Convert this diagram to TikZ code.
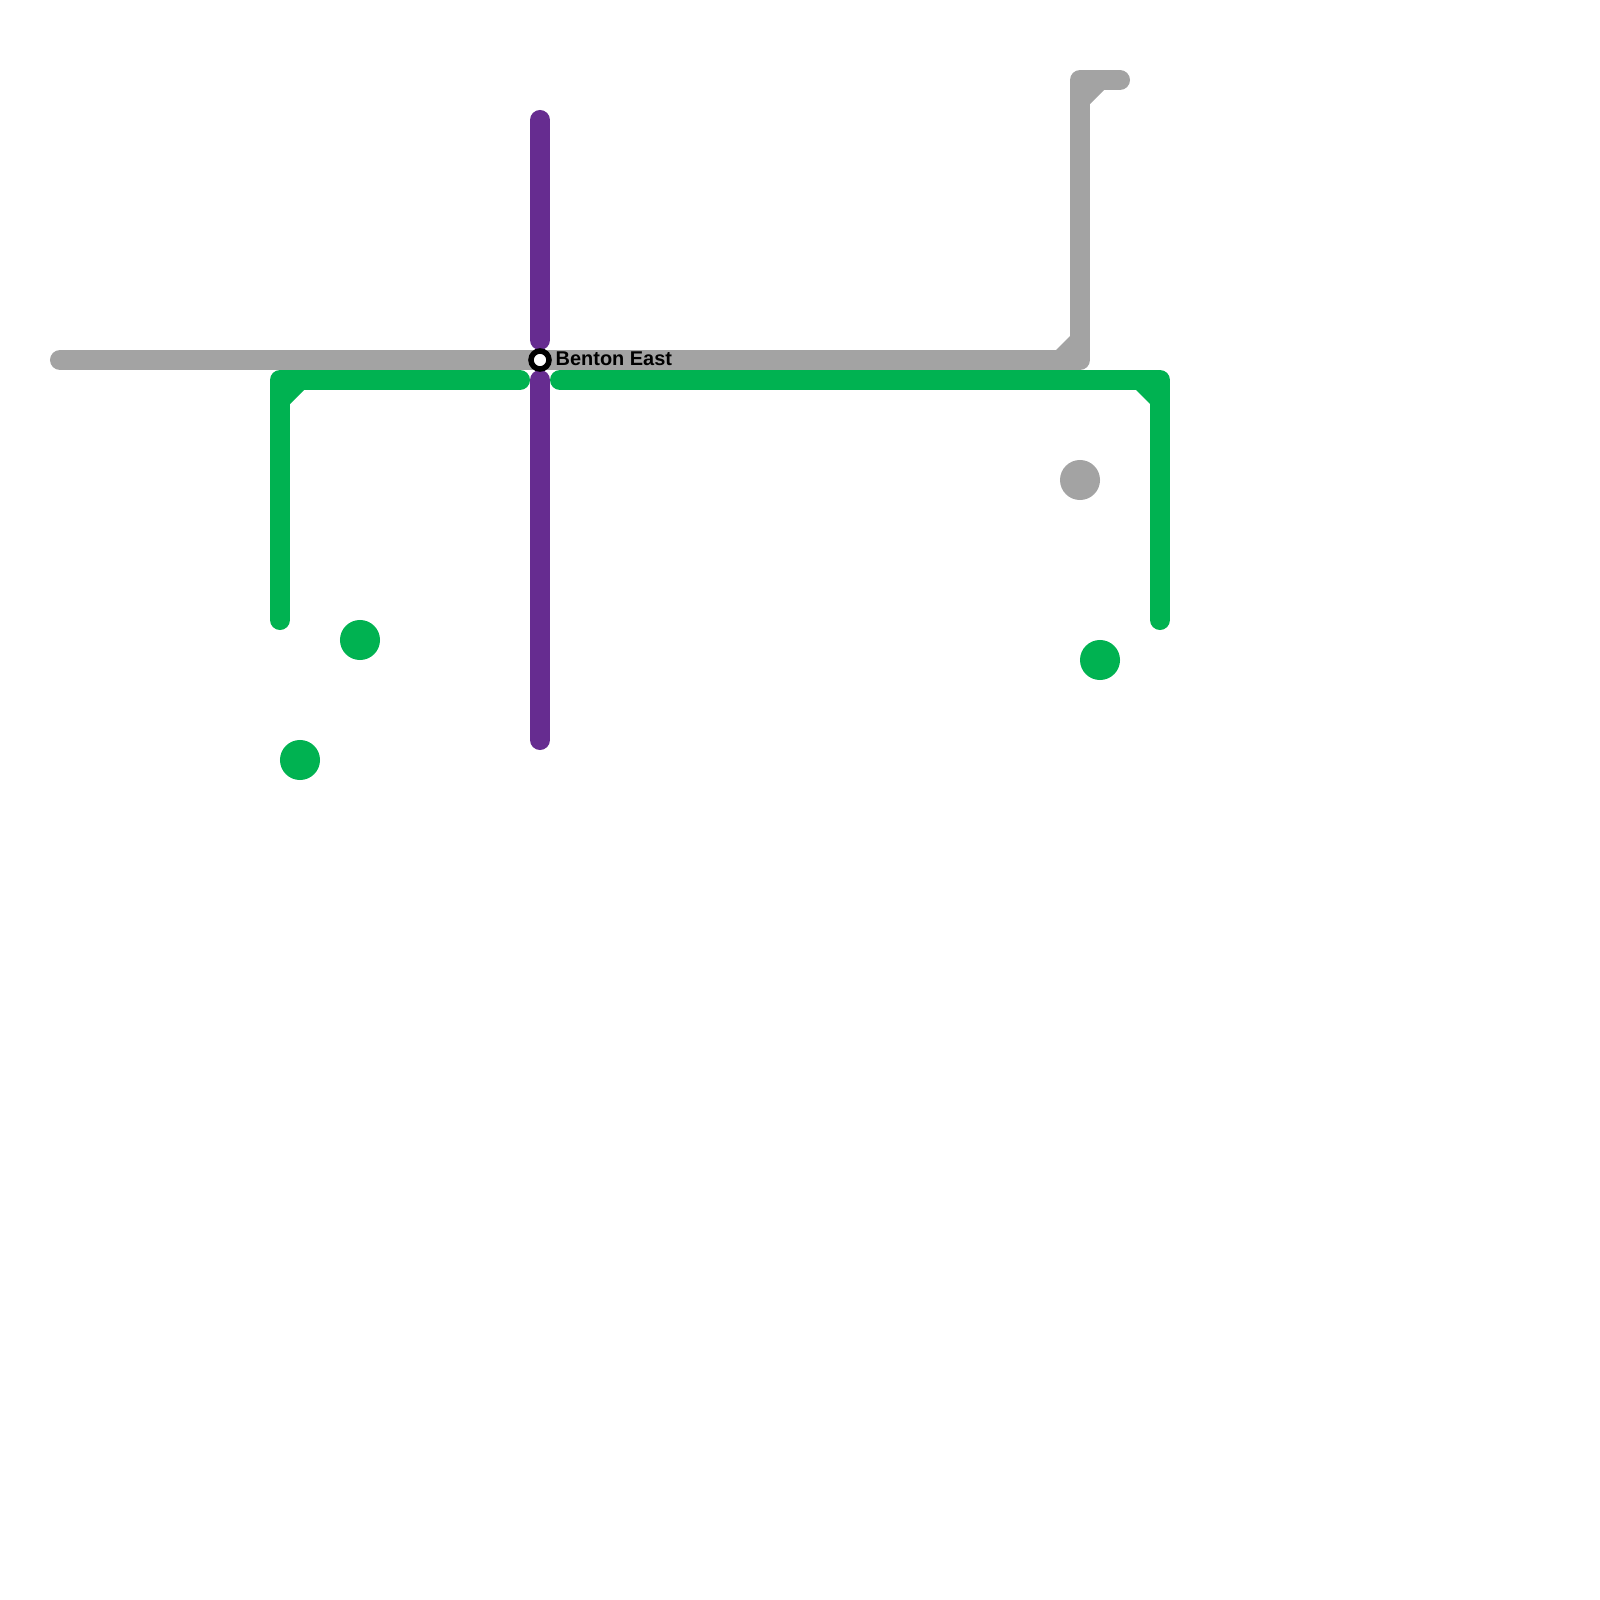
\documentclass[tikz,border=0pt]{standalone}
\usepackage{fontspec}
\setmainfont{Liberation Sans}
\usetikzlibrary{positioning}
\definecolor{linegrey}{HTML}{A3A3A3}
\definecolor{linegreen}{HTML}{00B251}
\definecolor{linepurple}{HTML}{662C90}

\begin{document}
\begin{tikzpicture}[
    x=0.01cm, y=-0.01cm,
    ln/.style={line width=2mm, line cap=round, line join=round},
    corner/.style={fill, draw=none},
    dot/.style={circle, fill, draw=none, inner sep=0pt, minimum size=4mm},
    stn/.style={circle, draw=black, fill=white, line width=0.55mm, inner sep=0pt, minimum size=1.8mm},
    lbl/.style={font=\fontsize{5.67pt}{7pt}\selectfont\bfseries, inner sep=0pt, anchor=base west},
]
    \useasboundingbox (0,0) rectangle (1600,1600);

    \coordinate (ga) at (60,360);
    \coordinate (gb) at (1080,360);
    \coordinate (gc) at (1080,80);
    \coordinate (gd) at (1120,80);
    \coordinate (la) at (280,620);
    \coordinate (lb) at (280,380);
    \coordinate (lc) at (520,380);
    \coordinate (ra) at (560,380);
    \coordinate (rb) at (1160,380);
    \coordinate (rc) at (1160,620);
    \coordinate (pa) at (540,120);
    \coordinate (pb) at (540,340);
    \coordinate (pc) at (540,380);
    \coordinate (pd) at (540,740);

    \draw[ln, linegrey] (ga) -- (gb) -- (gc) -- (gd);
    \fill[corner, linegrey] (1070,350) -- (1056,350) -- (1070,336) -- cycle;
    \fill[corner, linegrey] (1090,90) -- (1104,90) -- (1090,104) -- cycle;

    \draw[ln, linegreen] (la) -- (lb) -- (lc);
    \fill[corner, linegreen] (290,390) -- (304,390) -- (290,404) -- cycle;
    \draw[ln, linegreen] (ra) -- (rb) -- (rc);
    \fill[corner, linegreen] (1150,390) -- (1136,390) -- (1150,404) -- cycle;

    \draw[ln, linepurple] (pa) -- (pb);
    \draw[ln, linepurple] (pc) -- (pd);

    \node[dot, linegrey] (g1) at (1080,480) {};
    \node[dot, linegreen] (d1) at (360,640) {};
    \node[dot, linegreen] (d2) at (300,760) {};
    \node[dot, linegreen] (d3) at (1100,660) {};

    \node[stn] (b) at (540,360) {};
    \node[lbl] (bl) at (555,365) {Benton East};
\end{tikzpicture}
\end{document}
